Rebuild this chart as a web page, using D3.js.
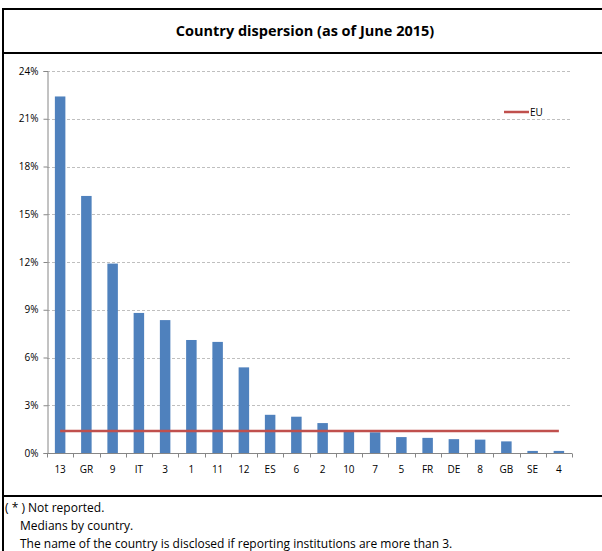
<!DOCTYPE html>
<html>
<head>
<meta charset="utf-8">
<script src="https://cdn.jsdelivr.net/npm/d3@7"></script>
<style>
  html, body { margin: 0; padding: 0; background: #fff; }
  svg { display: block; }
</style>
</head>
<body>
<svg id="chart" width="602" height="551"></svg>
<script>
// Median values by country (percent)
const categories = ["13", "GR", "9", "IT", "3", "1", "11", "12", "ES", "6", "2", "10", "7", "5", "FR", "DE", "8", "GB", "SE", "4"];
const values = [22.4, 16.15, 11.9, 8.8, 8.35, 7.1, 6.98, 5.38, 2.4, 2.28, 1.88, 1.35, 1.3, 1.0, 0.95, 0.87, 0.84, 0.73, 0.13, 0.13];
const euValue = 1.38;
const yTicks = [0, 3, 6, 9, 12, 15, 18, 21, 24];
const title = "Country dispersion (as of June 2015)";
const notes = ["( * ) Not reported.", "Medians by country.", "The name of the country is disclosed if reporting institutions are more than 3."];

const svg = d3.select("#chart");
const font = "'Open Sans', 'Liberation Sans', Arial, sans-serif";

const plot = { left: 47, right: 572, top: 71, bottom: 453 };

const x = d3.scaleBand().domain(categories).range([plot.left, plot.right]).paddingInner(0.6).paddingOuter(0.3);
const xb = d3.scaleBand().domain(categories).range([plot.left, plot.right]);
const y = d3.scaleLinear().domain([0, 24]).range([plot.bottom, plot.top]);

// Frame lines
const frame = svg.append("g").attr("stroke", "#000").attr("stroke-width", 2);
frame.append("line").attr("x1", 3).attr("x2", 602).attr("y1", 9).attr("y2", 9);
frame.append("line").attr("x1", 3).attr("x2", 602).attr("y1", 53).attr("y2", 53);
frame.append("line").attr("x1", 3).attr("x2", 602).attr("y1", 496).attr("y2", 496);
frame.append("line").attr("x1", 3).attr("x2", 3).attr("y1", 8).attr("y2", 551);

// Title
svg.append("text")
  .attr("x", 305).attr("y", 36)
  .attr("text-anchor", "middle")
  .attr("font-family", font).attr("font-weight", "bold").attr("font-size", 14.5)
  .attr("fill", "#000")
  .text(title);

// Gridlines
svg.append("g")
  .selectAll("line").data(yTicks.filter(d => d > 0)).join("line")
  .attr("x1", plot.left).attr("x2", plot.right)
  .attr("y1", d => Math.round(y(d)) + 0.5).attr("y2", d => Math.round(y(d)) + 0.5)
  .attr("stroke", "#bfbfbf").attr("stroke-width", 1).attr("stroke-dasharray", "3,2");

// Y axis
const yAxis = svg.append("g")
  .attr("transform", `translate(${plot.left + 0.5},0)`)
  .call(d3.axisLeft(y).tickValues(yTicks).tickSize(4).tickPadding(5).tickFormat(d => d + "%"));
yAxis.select(".domain").attr("stroke", "#868686");
yAxis.selectAll(".tick line").attr("stroke", "#868686");
yAxis.selectAll(".tick text").attr("font-family", font).attr("font-size", 10).attr("fill", "#000");

// Bars
svg.append("g")
  .selectAll("rect").data(categories).join("rect")
  .attr("x", d => x(d))
  .attr("width", x.bandwidth())
  .attr("y", (d, i) => y(values[i]))
  .attr("height", (d, i) => y(0) - y(values[i]))
  .attr("fill", "#4f81bd");

// X axis
const xAxisG = svg.append("g").attr("transform", `translate(0,${plot.bottom + 0.5})`);
xAxisG.append("line").attr("x1", plot.left).attr("x2", plot.right).attr("stroke", "#868686");
xAxisG.selectAll("line.tk").data(d3.range(categories.length + 1)).join("line")
  .attr("class", "tk")
  .attr("x1", i => Math.round(plot.left + i * xb.step()) + 0.5)
  .attr("x2", i => Math.round(plot.left + i * xb.step()) + 0.5)
  .attr("y1", 0).attr("y2", 4)
  .attr("stroke", "#868686");
xAxisG.selectAll("text").data(categories).join("text")
  .attr("x", d => xb(d) + xb.bandwidth() / 2)
  .attr("y", 19)
  .attr("text-anchor", "middle")
  .attr("font-family", font).attr("font-size", 10).attr("fill", "#000")
  .text(d => d);

// EU reference line
svg.append("line")
  .attr("x1", xb(categories[0]) + xb.bandwidth() / 2)
  .attr("x2", xb(categories[categories.length - 1]) + xb.bandwidth() / 2)
  .attr("y1", y(euValue)).attr("y2", y(euValue))
  .attr("stroke", "#c0504d").attr("stroke-width", 2.5);

// Legend
const lg = svg.append("g").attr("transform", "translate(504,112)");
lg.append("line").attr("x1", 0).attr("x2", 25).attr("stroke", "#c0504d").attr("stroke-width", 2.5);
lg.append("text").attr("x", 26).attr("y", 3.5)
  .attr("font-family", font).attr("font-size", 10).attr("fill", "#000").text("EU");

// Footnotes
svg.append("g").selectAll("text").data(notes).join("text")
  .attr("x", (d, i) => i === 0 ? 5 : 20)
  .attr("y", (d, i) => [512, 530, 547.5][i])
  .attr("font-family", font).attr("font-size", 12).attr("fill", "#000")
  .text(d => d);
</script>
</body>
</html>
